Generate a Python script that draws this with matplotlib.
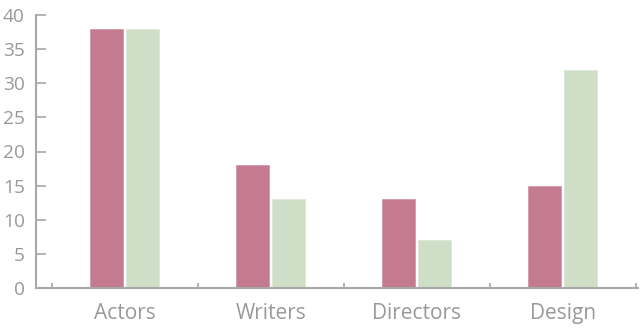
import matplotlib
matplotlib.use("Agg")
import matplotlib.pyplot as plt
import numpy as np

categories = ["Actors", "Writers", "Directors", "Design"]
series_a = [38, 18, 13, 15]
series_b = [38, 13, 7, 32]
y_ticks = [0, 5, 10, 15, 20, 25, 30, 35, 40]

pink = "#c47b8f"
green = "#cfdfc7"
gray = "#999999"
axis_gray = "#a8a8a8"

plt.rcParams['font.family'] = ['Open Sans', 'DejaVu Sans']

fig = plt.figure(figsize=(6.4, 3.28), dpi=100)
ax = fig.add_axes([36/640, 40/328, (638-36)/640, (288-15)/328])

x = np.arange(len(categories))
w = 0.226
off = 0.124
ax.bar(x - off, series_a, width=w, color=pink, edgecolor="#d396a6", linewidth=0.6)
ax.bar(x + off, series_b, width=w, color=green, edgecolor="#dbe8d5", linewidth=0.6)

ax.set_xlim(-0.608, 3.515)
ax.set_ylim(0, 40)
ax.set_yticks(y_ticks)
ax.set_yticklabels([str(v) for v in y_ticks])
ax.set_xticks(x)
ax.set_xticklabels(categories)
ax.set_xticks(np.arange(len(categories) + 1) - 0.5, minor=True)

for s in ["top", "right"]:
    ax.spines[s].set_visible(False)
for s in ["left", "bottom"]:
    ax.spines[s].set_color(axis_gray)
    ax.spines[s].set_linewidth(1.5)

ax.tick_params(axis="y", direction="in", length=7.5, width=1.2, color=axis_gray,
               labelcolor=gray, labelsize=13.8, pad=8)
ax.tick_params(axis="x", which="major", length=0, labelcolor=gray, labelsize=15, pad=11)
ax.tick_params(axis="x", which="minor", direction="in", length=3.5, width=1.2, color=axis_gray)

fig.savefig("out.png", dpi=100)
